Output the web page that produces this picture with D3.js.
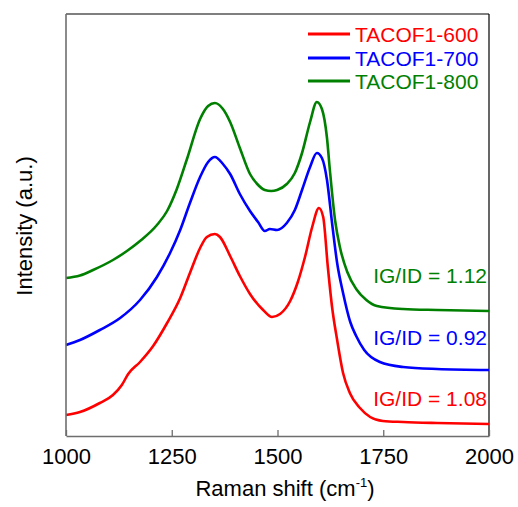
<!DOCTYPE html>
<html>
<head>
<meta charset="utf-8">
<script src="https://cdn.jsdelivr.net/npm/d3@7"></script>
<style>
  body { margin: 0; background: #fff; }
  svg text { font-family: Arial, "Liberation Sans", sans-serif; }
</style>
</head>
<body>
<div id="chart"></div>
<script>
  // Raman spectra, offset-stacked intensity (a.u.)
  let shift600 = [1000, 1033, 1080, 1111, 1132, 1147, 1175, 1206, 1239, 1270, 1293, 1317, 1333, 1352, 1364, 1388, 1411, 1435, 1466, 1487, 1506, 1530, 1548, 1565, 1582, 1598, 1608, 1619, 1629, 1641, 1655, 1671, 1695, 1719, 1749, 1797, 1877, 2000];
  let int600 = [21, 24, 33, 41, 51, 62, 74, 90, 113, 138, 163, 188, 199, 202, 199, 180, 160, 142, 126, 119, 122, 135, 154, 179, 209, 228, 219, 169, 129, 96, 63, 43, 28, 19, 15, 14, 13, 12];

  let shift700 = [1000, 1033, 1080, 1128, 1175, 1215, 1246, 1270, 1293, 1317, 1336, 1352, 1371, 1388, 1411, 1435, 1454, 1470, 1482, 1499, 1522, 1541, 1558, 1577, 1593, 1605, 1617, 1629, 1641, 1655, 1672, 1686, 1705, 1742, 1797, 1877, 2000];
  let int700 = [91, 96, 106, 118, 136, 159, 183, 206, 233, 259, 274, 279, 272, 262, 242, 225, 214, 205, 207, 206, 213, 226, 246, 269, 283, 278, 256, 213, 173, 143, 114, 100, 86, 74, 69, 67, 66];

  let shift800 = [1000, 1033, 1064, 1111, 1144, 1175, 1215, 1239, 1262, 1286, 1317, 1336, 1352, 1371, 1388, 1411, 1435, 1452, 1470, 1485, 1499, 1522, 1541, 1558, 1577, 1593, 1605, 1617, 1624, 1636, 1648, 1665, 1686, 1710, 1735, 1797, 1877, 2000];
  let int800 = [158, 160.5, 166, 176, 185, 195, 211, 225, 247, 277, 317, 330, 333, 327, 314, 288, 262, 252, 246, 245, 246, 252, 263, 283, 314, 334, 327, 298, 265, 216, 188, 164, 147, 136, 130, 127, 126, 125];

  let seriesNames = ['TACOF1-600', 'TACOF1-700', 'TACOF1-800'];
  let ratioLabels = ['IG/ID = 1.08', 'IG/ID = 0.92', 'IG/ID = 1.12'];
  let xTicks = [1000, 1250, 1500, 1750, 2000];
  let colors = ['#ff0000', '#0000ff', '#008000'];

  let margin = {top: 14, right: 29, bottom: 71, left: 66};
  let width = 518 - margin.left - margin.right;
  let height = 507 - margin.top - margin.bottom;

  let svg = d3.select('#chart').append('svg')
    .attr('width', 518)
    .attr('height', 507);

  let g = svg.append('g')
    .attr('transform', 'translate(' + margin.left + ',' + margin.top + ')');

  let x = d3.scaleLinear().domain([1000, 2000]).range([0, width]);
  let y = d3.scaleLinear().domain([0, height]).range([height, 0]);

  let series = [
    {name: seriesNames[0], xs: shift600, ys: int600},
    {name: seriesNames[1], xs: shift700, ys: int700},
    {name: seriesNames[2], xs: shift800, ys: int800}
  ];

  let line = d3.line()
    .x(function(d) { return x(d[0]); })
    .y(function(d) { return y(d[1]); })
    .curve(d3.curveMonotoneX);

  // frame: top and right in black
  g.append('line').attr('x1', 0).attr('x2', width).attr('y1', 0).attr('y2', 0)
    .attr('stroke', '#000').attr('stroke-width', 1.2);
  g.append('line').attr('x1', width).attr('x2', width).attr('y1', 0).attr('y2', height)
    .attr('stroke', '#000').attr('stroke-width', 1.2);

  series.forEach(function(s, i) {
    let pts = s.xs.map(function(v, j) { return [v, s.ys[j]]; });
    g.append('path')
      .datum(pts)
      .attr('fill', 'none')
      .attr('stroke', colors[i])
      .attr('stroke-width', 2.6)
      .attr('stroke-linejoin', 'round')
      .attr('d', line);
  });

  // axes
  let xAxis = g.append('g')
    .attr('transform', 'translate(0,' + height + ')')
    .call(d3.axisBottom(x).tickValues(xTicks).tickSize(-6).tickSizeOuter(0).tickPadding(12).tickFormat(d3.format('d')));
  xAxis.select('.domain').attr('stroke', '#6e6e6e').attr('stroke-width', 1.6);
  xAxis.selectAll('.tick line').attr('stroke', '#6e6e6e').attr('stroke-width', 1.3);
  xAxis.selectAll('.tick text')
    .attr('fill', '#000')
    .style('font-size', '22px');

  g.append('line').attr('x1', 0).attr('x2', 0).attr('y1', 0).attr('y2', height)
    .attr('stroke', '#6e6e6e').attr('stroke-width', 1.6);

  // axis titles
  let xTitle = svg.append('text')
    .attr('x', 285)
    .attr('y', 496)
    .attr('text-anchor', 'middle')
    .style('font-size', '22px')
    .attr('fill', '#000');
  xTitle.append('tspan').text('Raman shift (cm');
  xTitle.append('tspan').attr('dy', -9).style('font-size', '13px').text('-1');
  xTitle.append('tspan').attr('dy', 9).text(')');

  svg.append('text')
    .attr('transform', 'translate(32,226) rotate(-90)')
    .attr('text-anchor', 'middle')
    .style('font-size', '22px')
    .attr('fill', '#000')
    .text('Intensity (a.u.)');

  // legend
  let legendY = [34, 58, 81];
  let legend = svg.append('g');
  series.forEach(function(s, i) {
    legend.append('line')
      .attr('x1', 308).attr('x2', 350)
      .attr('y1', legendY[i]).attr('y2', legendY[i])
      .attr('stroke', colors[i]).attr('stroke-width', 3);
    legend.append('text')
      .attr('x', 355).attr('y', legendY[i] + 8)
      .style('font-size', '21px')
      .attr('fill', colors[i])
      .text(s.name);
  });

  // ratio labels
  let ratioY = [406, 345, 283];
  ratioLabels.forEach(function(t, i) {
    svg.append('text')
      .attr('x', 487).attr('y', ratioY[i])
      .attr('text-anchor', 'end')
      .style('font-size', '21px')
      .attr('fill', colors[i])
      .text(t);
  });
</script>
</body>
</html>
